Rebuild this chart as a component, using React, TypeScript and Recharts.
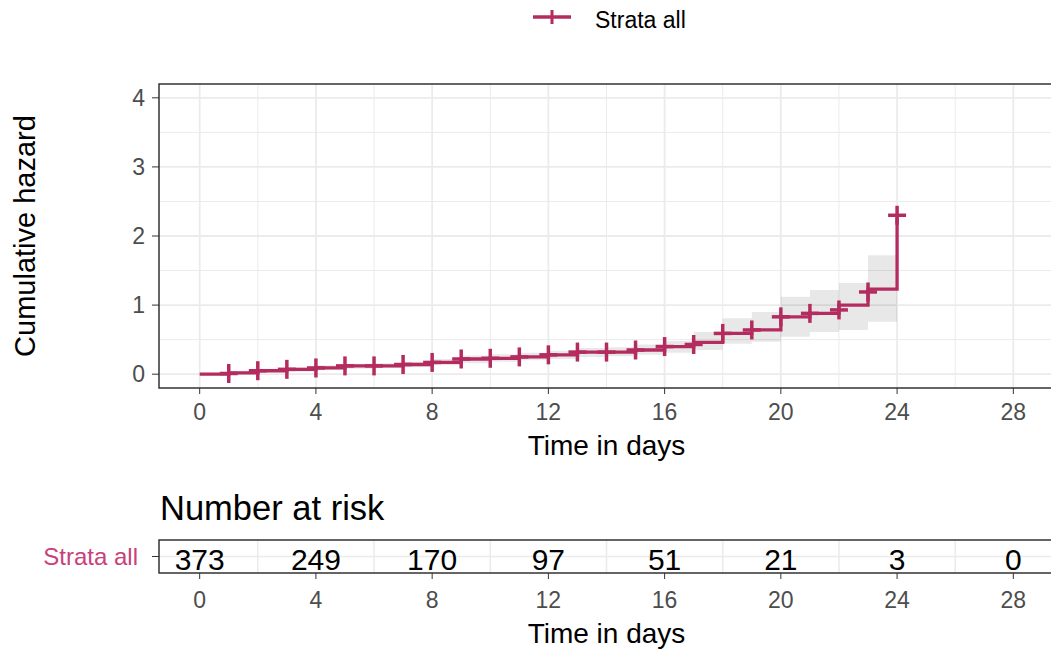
import React from 'react';
import {
  ComposedChart,
  Line,
  Area,
  Scatter,
  XAxis,
  YAxis,
  CartesianGrid,
  ReferenceArea,
} from 'recharts';

// cumulative hazard, stepping at each day
const times = [0, 1, 2, 3, 4, 5, 6, 7, 8, 9, 10, 11, 12, 13, 14, 15, 16, 17, 18, 19, 20, 21, 22, 23, 24];
const hazard = [0, 0.02, 0.05, 0.07, 0.09, 0.12, 0.12, 0.14, 0.17, 0.22, 0.23, 0.25, 0.28, 0.32, 0.32, 0.35, 0.4, 0.46, 0.59, 0.64, 0.83, 0.88, 1.0, 1.23, 2.3];
const lower = [0, 0, 0.03, 0.04, 0.06, 0.08, 0.09, 0.1, 0.13, 0.16, 0.18, 0.2, 0.22, 0.25, 0.26, 0.28, 0.31, 0.35, 0.44, 0.47, 0.54, 0.61, 0.64, 0.76, 0.76];
const upper = [0, 0.05, 0.08, 0.1, 0.13, 0.15, 0.16, 0.18, 0.22, 0.27, 0.29, 0.31, 0.34, 0.38, 0.39, 0.43, 0.48, 0.61, 0.81, 0.9, 1.12, 1.22, 1.32, 1.72, 1.72];

// censoring marks
const censorTimes = [1, 2, 3, 4, 5, 6, 7, 8, 9, 10, 11, 12, 13, 14, 15, 16, 17, 18, 19, 20, 21, 22, 23, 24];
const censorHazard = [0.01, 0.05, 0.07, 0.09, 0.12, 0.12, 0.14, 0.17, 0.22, 0.23, 0.25, 0.28, 0.32, 0.32, 0.35, 0.4, 0.43, 0.59, 0.64, 0.83, 0.88, 0.93, 1.19, 2.3];

// number at risk table
const riskTimes = [0, 4, 8, 12, 16, 20, 24, 28];
const riskCounts = [373, 249, 170, 97, 51, 21, 3, 0];

const strata = 'Strata all';
const xTicks = [0, 4, 8, 12, 16, 20, 24, 28];
const xMinor = [2, 6, 10, 14, 18, 22, 26];
const yTicks = [0, 1, 2, 3, 4];
const yMinor = [0.5, 1.5, 2.5, 3.5];

const COL = '#B42C5F';
const LABEL_COL = '#C8417A';
const FONT = "'Liberation Sans', Arial, Helvetica, sans-serif";
const XDOM: [number, number] = [-1.4, 29.4];

const rows = times.map((t, i) => ({ time: t, hazard: hazard[i], ci: [lower[i], upper[i]] }));
const marks = censorTimes.map((t, i) => ({ time: t, hazard: censorHazard[i] }));
const riskRows = riskTimes.map((t, i) => ({ time: t, row: 0.5, n: riskCounts[i] }));

const Plus = (props: any) => {
  const { cx, cy } = props;
  return (
    <g stroke={COL} strokeWidth={3.5}>
      <line x1={cx - 9} y1={cy} x2={cx + 9} y2={cy} />
      <line x1={cx} y1={cy - 9.5} x2={cx} y2={cy + 9.5} />
    </g>
  );
};

const RiskText = (props: any) => {
  const { cx, cy, payload } = props;
  return (
    <text x={cx} y={cy + 13} textAnchor="middle" fontSize={30} fill="#000" fontFamily={FONT}>
      {payload.n}
    </text>
  );
};

const xTitle = (dy: number) => (p: any) => {
  const vb = p.viewBox;
  return (
    <text x={vb.x + vb.width / 2} y={vb.y + dy} textAnchor="middle" fontSize={28} fill="#000" fontFamily={FONT}>
      Time in days
    </text>
  );
};

const yTitle = (p: any) => {
  const vb = p.viewBox;
  const cy = vb.y + vb.height / 2;
  return (
    <text x={35} y={cy} transform={`rotate(-90, 35, ${cy})`} textAnchor="middle" fontSize={29} fill="#000" fontFamily={FONT}>
      Cumulative hazard
    </text>
  );
};

const tickStyle = { fill: '#4D4D4D', fontSize: 23, fontFamily: FONT };

export default function App() {
  return (
    <div style={{ position: 'absolute', left: 0, top: 0, width: 1051, height: 650, overflow: 'hidden', background: '#fff' }}>
      <svg width={1051} height={40} style={{ position: 'absolute', left: 0, top: 0 }}>
        <line x1={533} y1={17} x2={571} y2={17} stroke={COL} strokeWidth={3.5} />
        <line x1={552} y1={10} x2={552} y2={24} stroke={COL} strokeWidth={3} />
        <text x={595} y={28} fontSize={23} fill="#000" fontFamily={FONT}>
          {strata}
        </text>
      </svg>

      <div style={{ position: 'absolute', left: 0, top: 0 }}>
        <ComposedChart width={1060} height={470} data={rows} margin={{ top: 84, right: 6, bottom: 0, left: 0 }}>
          <CartesianGrid horizontalValues={yMinor} verticalValues={xMinor} stroke="#EBEBEB" strokeWidth={1} />
          <CartesianGrid horizontalValues={yTicks} verticalValues={xTicks} stroke="#EBEBEB" strokeWidth={1.8} />
          <XAxis
            type="number"
            dataKey="time"
            domain={XDOM}
            allowDataOverflow
            ticks={xTicks}
            height={82}
            axisLine={false}
            tickLine={{ stroke: '#333' }}
            tickSize={6}
            tickMargin={10}
            tick={tickStyle}
            label={{ content: xTitle(67) }}
          />
          <YAxis
            type="number"
            domain={[-0.2, 4.2]}
            allowDataOverflow
            ticks={yTicks}
            width={159}
            axisLine={false}
            tickLine={{ stroke: '#333' }}
            tickSize={7}
            tickMargin={7}
            tick={tickStyle}
            label={{ content: yTitle }}
          />
          <Area
            dataKey="ci"
            type="stepAfter"
            fill="#000"
            fillOpacity={0.09}
            stroke="none"
            isAnimationActive={false}
          />
          <Line
            dataKey="hazard"
            type="stepAfter"
            stroke={COL}
            strokeWidth={3.3}
            dot={false}
            activeDot={false}
            isAnimationActive={false}
          />
          <Scatter data={marks} dataKey="hazard" shape={Plus} isAnimationActive={false} />
          <ReferenceArea x1={XDOM[0]} x2={XDOM[1]} y1={-0.2} y2={4.2} fill="none" stroke="#333" strokeWidth={1.5} strokeOpacity={1} ifOverflow="visible" />
        </ComposedChart>
      </div>

      <svg width={1051} height={40} style={{ position: 'absolute', left: 0, top: 490 }}>
        <text x={160} y={30} fontSize={34.5} fill="#000" fontFamily={FONT}>
          Number at risk
        </text>
      </svg>

      <div style={{ position: 'absolute', left: 0, top: 480 }}>
        <ComposedChart width={1060} height={170} data={riskRows} margin={{ top: 60, right: 6, bottom: 0, left: 0 }}>
          <CartesianGrid horizontalValues={[0.5]} verticalValues={xMinor} stroke="#EBEBEB" strokeWidth={1.5} />
          <XAxis
            type="number"
            dataKey="time"
            domain={XDOM}
            allowDataOverflow
            ticks={xTicks}
            height={77}
            axisLine={false}
            tickLine={{ stroke: '#333' }}
            tickSize={6}
            tickMargin={13}
            tick={tickStyle}
            label={{ content: xTitle(70) }}
          />
          <YAxis
            type="number"
            domain={[0, 1]}
            allowDataOverflow
            ticks={[0.5]}
            tickFormatter={() => strata}
            width={159}
            axisLine={false}
            tickLine={{ stroke: '#333' }}
            tickSize={7}
            tickMargin={14}
            tick={{ fill: LABEL_COL, fontSize: 24, fontFamily: FONT }}
          />
          <Scatter dataKey="row" shape={RiskText} isAnimationActive={false} />
          <ReferenceArea x1={XDOM[0]} x2={XDOM[1]} y1={0} y2={1} fill="none" stroke="#333" strokeWidth={1.5} strokeOpacity={1} ifOverflow="visible" />
        </ComposedChart>
      </div>
    </div>
  );
}
